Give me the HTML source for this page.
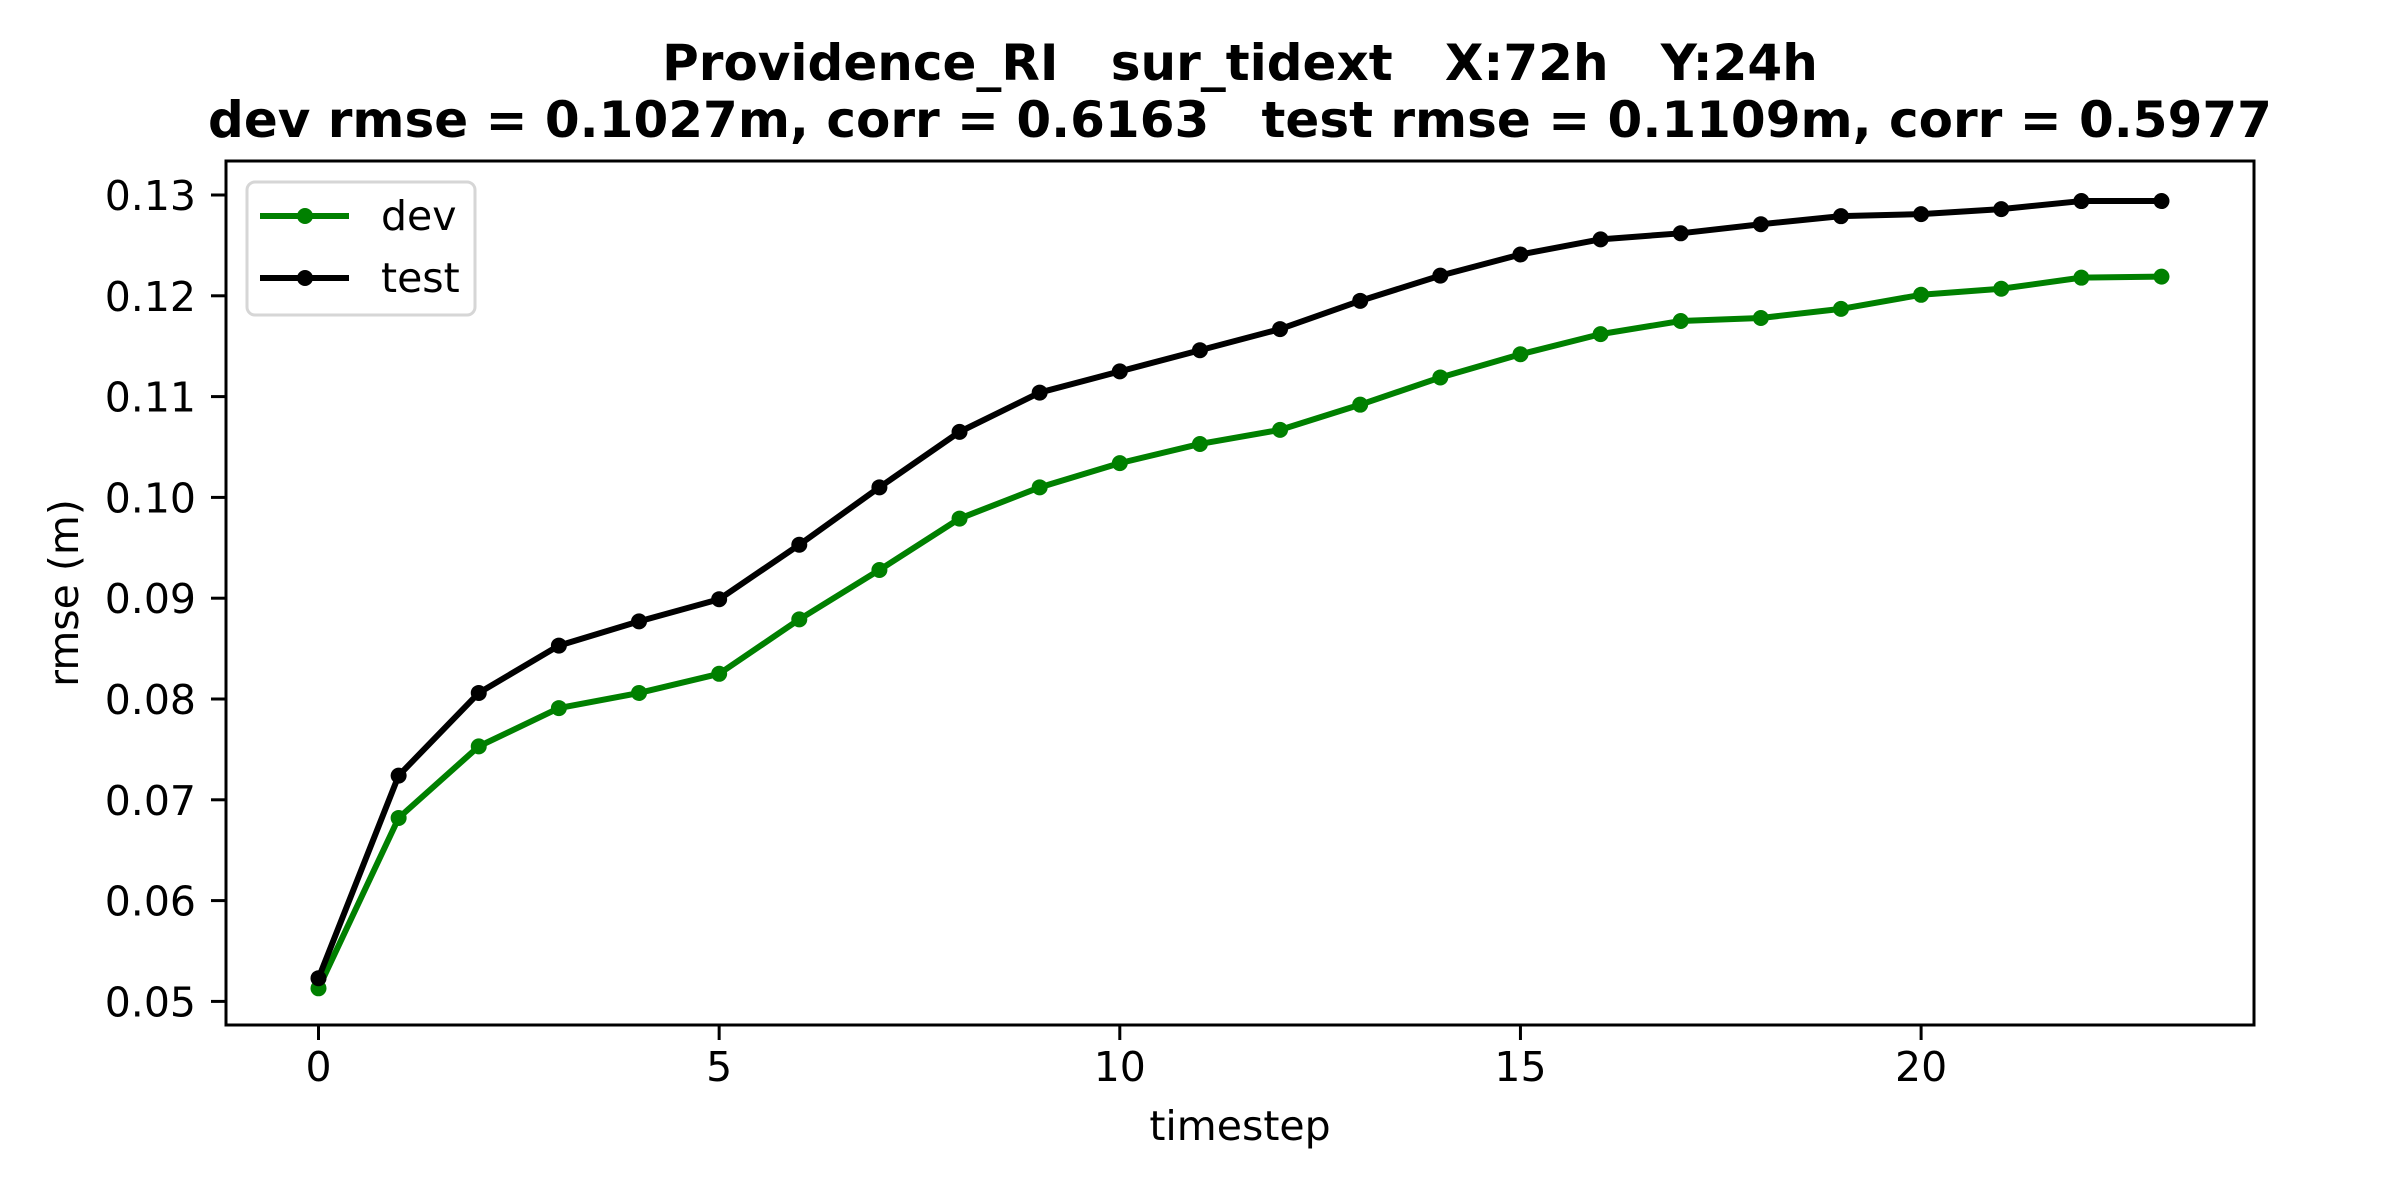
<!DOCTYPE html>
<html><head><meta charset="utf-8"><style>html,body{margin:0;padding:0;background:#fff}svg{display:block}</style></head>
<body>
<svg id="chart" width="2400" height="1200" xmlns="http://www.w3.org/2000/svg" font-family="'DejaVu Sans','Liberation Sans',sans-serif">
<rect width="2400" height="1200" fill="#fff"/>
<text x="1240" y="80" font-size="50" font-weight="bold" text-anchor="middle" xml:space="preserve">Providence_RI   sur_tidext   X:72h   Y:24h</text>
<text x="1240" y="137" font-size="50" font-weight="bold" text-anchor="middle" xml:space="preserve">dev rmse = 0.1027m, corr = 0.6163   test rmse = 0.1109m, corr = 0.5977</text>
<g id="axes"></g>
<text x="1240" y="1140" font-size="41" text-anchor="middle">timestep</text>
<text transform="translate(78,593) rotate(-90)" font-size="41" text-anchor="middle">rmse (m)</text>
<g>
<rect x="247" y="182" width="228" height="133" rx="8" fill="#fff" stroke="#d6d6d6" stroke-width="3"/>
<g>
<line x1="260" y1="216" x2="349" y2="216" stroke="#008000" stroke-width="6"/><circle cx="305" cy="216" r="8" fill="#008000"/>
<text x="381" y="230" font-size="41">dev</text></g>
<g>
<line x1="260" y1="278" x2="349" y2="278" stroke="#000" stroke-width="6"/><circle cx="305" cy="278" r="8" fill="#000"/>
<text x="381" y="292" font-size="41">test</text></g>
</g>
</svg>
<script>
const timesteps = [0,1,2,3,4,5,6,7,8,9,10,11,12,13,14,15,16,17,18,19,20,21,22,23];
const devRmse = [0.0513,0.0682,0.0753,0.0791,0.0806,0.0825,0.0879,0.0928,0.0979,0.1010,0.1034,0.1053,0.1067,0.1092,0.1119,0.1142,0.1162,0.1175,0.1178,0.1187,0.1201,0.1207,0.1218,0.1219];
const testRmse = [0.0523,0.0724,0.0806,0.0853,0.0877,0.0899,0.0953,0.1010,0.1065,0.1104,0.1125,0.1146,0.1167,0.1195,0.1220,0.1241,0.1256,0.1262,0.1271,0.1279,0.1281,0.1286,0.1294,0.1294];
const xTicks = [0,5,10,15,20];
const yTicks = [0.05,0.06,0.07,0.08,0.09,0.10,0.11,0.12,0.13];
const yTickLabels = ["0.05","0.06","0.07","0.08","0.09","0.10","0.11","0.12","0.13"];

const L=226,R=2254,T=161,B=1025;
function xs(v){return 318.5+(v-0)*80.13;}
function ys(v){return 195+(0.13-v)*10080;}
const NS="http://www.w3.org/2000/svg";
const g=document.getElementById('axes');
function mk(tag,attrs,parent){const e=document.createElementNS(NS,tag);for(const k in attrs)e.setAttribute(k,attrs[k]);(parent||g).appendChild(e);return e;}

xTicks.forEach(t=>{
  const tk=mk('line',{x1:xs(t),x2:xs(t),y1:B,y2:B+15,stroke:'#000','stroke-width':3});
  
  
  const tx=mk('text',{x:xs(t),y:B+56,'font-size':41,'text-anchor':'middle'});
  
  
  tx.textContent=t;
});
yTicks.forEach((t,i)=>{
  const tk=mk('line',{x1:L-15,x2:L,y1:ys(t),y2:ys(t),stroke:'#000','stroke-width':3});
  
  
  const tx=mk('text',{x:L-30,y:ys(t)+15,'font-size':41,'text-anchor':'end'});
  
  
  tx.textContent=yTickLabels[i];
});
function series(vals,color,name){
  const pl=mk('polyline',{points:vals.map((v,i)=>xs(timesteps[i])+','+ys(v)).join(' '),fill:'none',stroke:color,'stroke-width':6,'stroke-linejoin':'round'});
  
  
  vals.forEach((v,i)=>{
    const c=mk('circle',{cx:xs(timesteps[i]),cy:ys(v),r:8,fill:color});
    
    
  });
}
series(devRmse,'#008000','dev');
series(testRmse,'#000000','test');
const fr=mk('rect',{x:L,y:T,width:R-L,height:B-T,fill:'none',stroke:'#000','stroke-width':3});


</script>
</body></html>
